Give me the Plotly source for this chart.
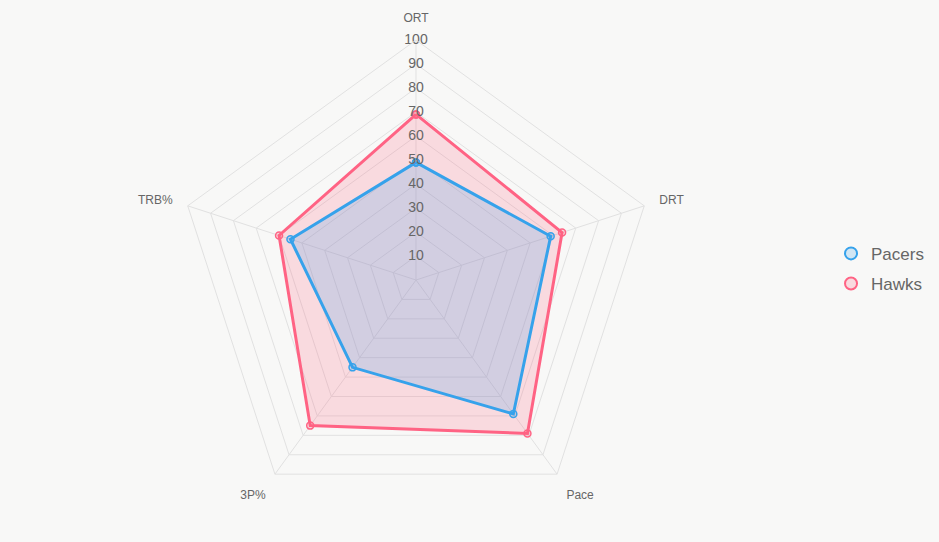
import plotly.graph_objects as go

categories = ["ORT", "DRT", "Pace", "3P%", "TRB%"]
pacers = [49, 59, 69, 45, 55]
hawks = [69, 64, 79, 75, 60]
tick_values = [10, 20, 30, 40, 50, 60, 70, 80, 90, 100]
tick_labels = [str(v) for v in tick_values]

series = [
    ("Pacers", pacers, "rgb(54,162,235)", "rgba(54,162,235,0.2)"),
    ("Hawks", hawks, "rgb(255,99,132)", "rgba(255,99,132,0.2)"),
]

fig = go.Figure()
# draw in reverse so the first series sits on top (as in the reference)
for name, vals, line_c, fill_c in reversed(series):
    fig.add_trace(go.Scatterpolar(
        r=vals + [vals[0]], theta=categories + [categories[0]],
        mode="lines+markers", fill="toself", fillcolor=fill_c,
        line=dict(color=line_c, width=3),
        marker=dict(size=7, color=fill_c, line=dict(color=line_c, width=1.5)),
        name=name, showlegend=False, hoverinfo="skip",
    ))

# radial tick labels drawn on the ORT spoke
fig.add_trace(go.Scatterpolar(
    r=tick_values, theta=[categories[0]] * len(tick_values),
    mode="text", text=tick_labels,
    textfont=dict(size=14, color="#666666", family="Liberation Sans, Arial"),
    showlegend=False, hoverinfo="skip",
))

# legend entries
for name, vals, line_c, fill_c in series:
    fig.add_trace(go.Scatterpolar(
        r=[None], theta=[categories[0]], mode="markers", name=name,
        legendgroup=name,
        marker=dict(size=15, color=fill_c, line=dict(color=line_c, width=1.5)),
    ))

grid = "#e1e1e1"
fig.update_layout(
    width=939, height=542,
    margin=dict(l=0, r=0, t=0, b=0),
    paper_bgcolor="#f8f8f7", plot_bgcolor="#f8f8f7",
    font=dict(family="Liberation Sans, Arial", color="#666666"),
    polar=dict(
        bgcolor="rgba(0,0,0,0)",
        gridshape="linear",
        domain=dict(x=[176 / 939, 656 / 939], y=[1 - 520 / 542, 1 - 40 / 542]),
        radialaxis=dict(range=[0, 100], tickvals=tick_values, showticklabels=False,
                        ticks="", showline=False, gridcolor=grid, gridwidth=1),
        angularaxis=dict(rotation=90, direction="clockwise", gridcolor=grid,
                         linecolor=grid, linewidth=1, ticks="outside", ticklen=13,
                         tickcolor="rgba(0,0,0,0)",
                         tickfont=dict(size=12, color="#666666")),
    ),
    legend=dict(x=0.885, y=0.504, xanchor="left", yanchor="middle",
                font=dict(size=17, color="#666666"), itemsizing="constant",
                bgcolor="rgba(0,0,0,0)", tracegroupgap=5),
)

fig.write_html("out.html")
